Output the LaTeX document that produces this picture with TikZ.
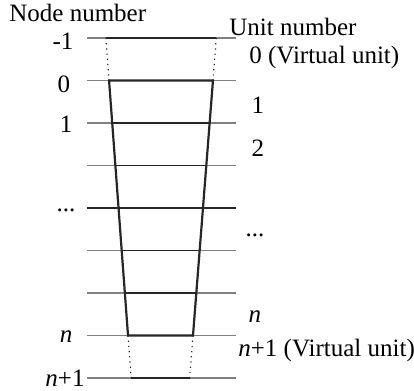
\documentclass[tikz,border=0pt]{standalone}
\usepackage{fontspec}
\setmainfont{Liberation Serif}

\begin{document}
\begin{tikzpicture}[x=0.5pt,y=-0.5pt]
	\colorlet{grid edge}{black!50}
	\colorlet{cell edge}{black!85}

	\tikzset{
		gridline/.style={draw=grid edge, line width=0.6pt},
		cellline/.style={draw=cell edge, line width=0.7pt},
		wallline/.style={draw=cell edge, line width=1.1pt, line join=miter},
		virtualline/.style={draw=cell edge, line width=0.6pt, dotted},
		lab/.style={inner sep=0pt, anchor=base, font=\fontsize{12.5}{14}\selectfont},
		labw/.style={lab, anchor=base west},
	}
	\useasboundingbox (0,0) rectangle (414,391);

	% node levels -1 ... n+1
	\foreach \i in {0,...,8} {
		\coordinate (A\i) at (87, {38+42.5*\i});
		\coordinate (B\i) at (236, {38+42.5*\i});
		\coordinate (L\i) at ({105.9+3.16*\i}, {38+42.5*\i});
		\coordinate (R\i) at ({216.3-3.33*\i}, {38+42.5*\i});
		\draw[gridline] (A\i) -- (B\i);
		\draw[cellline] (L\i) -- (R\i);
	}
	\draw[cellline] (A4) -- (B4);

	\draw[virtualline] (L0) -- (L1) (R0) -- (R1) (L7) -- (L8) (R7) -- (R8);
	\draw[wallline] (L1) -- (L7) -- (R7) -- (R1) -- cycle;

	% node numbers
	\node[labw] (nodetitle) at (9,22) {Node number};
	\node[lab] (node0) at (63,50) {-1};
	\node[lab] (node1) at (64,92) {0};
	\node[lab] (node2) at (66,133) {1};
	\node[lab] (node4) at (66,212) {...};
	\node[lab] (node7) at (66,343) {\textit{n}};
	\node[lab] (node8) at (65,387) {\textit{n}+1};

	% unit numbers
	\node[labw] (unittitle) at (229,35) {Unit number};
	\node[labw] (unit0) at (249,63) {0 (Virtual unit)};
	\node[lab] (unit1) at (258,113) {1};
	\node[lab] (unit2) at (258,156) {2};
	\node[lab] (unit4) at (255,237) {...};
	\node[lab] (unit7) at (255,323) {\textit{n}};
	\node[labw] (unit8) at (238,357) {\textit{n}+1 (Virtual unit)};
\end{tikzpicture}
\end{document}
